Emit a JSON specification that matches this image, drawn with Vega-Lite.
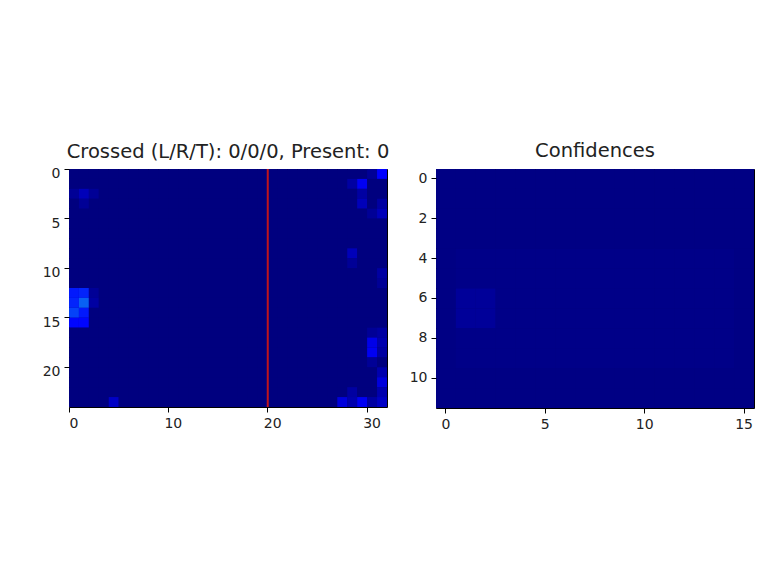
{
  "$schema": "https://vega.github.io/schema/vega-lite/v6.json",
  "background": "white",
  "padding": {"left": 41, "top": 140, "right": 4, "bottom": 4},
  "spacing": 18,
  "config": {
    "view": {"stroke": "#000", "strokeWidth": 1, "fill": "#00007f"},
    "axis": {"domain": false, "grid": false, "tickColor": "#000", "tickSize": 5, "tickWidth": 1, "labelFont": "DejaVu Sans", "labelFontSize": 14, "labelColor": "#222", "labelPadding": 4, "title": null, "labelAngle": 0},
    "title": {"font": "DejaVu Sans", "fontSize": 19.5, "fontWeight": "normal", "color": "#222", "offset": 8},
    "scale": {"bandPaddingInner": 0, "bandPaddingOuter": 0}
  },
  "datasets": {
    "lines": [{"x": 20}],
    "left": [
{"x":0,"y":0,"v":0},{"x":1,"y":0,"v":0},{"x":2,"y":0,"v":0},{"x":3,"y":0,"v":0},{"x":4,"y":0,"v":0},{"x":5,"y":0,"v":0},{"x":6,"y":0,"v":0},{"x":7,"y":0,"v":0},{"x":8,"y":0,"v":0},{"x":9,"y":0,"v":0},{"x":10,"y":0,"v":0},{"x":11,"y":0,"v":0},{"x":12,"y":0,"v":0},{"x":13,"y":0,"v":0},{"x":14,"y":0,"v":0},{"x":15,"y":0,"v":0},{"x":16,"y":0,"v":0},{"x":17,"y":0,"v":0},{"x":18,"y":0,"v":0},{"x":19,"y":0,"v":0},{"x":20,"y":0,"v":0},{"x":21,"y":0,"v":0},{"x":22,"y":0,"v":0},{"x":23,"y":0,"v":0},{"x":24,"y":0,"v":0},{"x":25,"y":0,"v":0},{"x":26,"y":0,"v":0},{"x":27,"y":0,"v":0},{"x":28,"y":0,"v":0},{"x":29,"y":0,"v":0},{"x":30,"y":0,"v":0.02},{"x":31,"y":0,"v":0.11},
{"x":0,"y":1,"v":0},{"x":1,"y":1,"v":0},{"x":2,"y":1,"v":0},{"x":3,"y":1,"v":0},{"x":4,"y":1,"v":0},{"x":5,"y":1,"v":0},{"x":6,"y":1,"v":0},{"x":7,"y":1,"v":0},{"x":8,"y":1,"v":0},{"x":9,"y":1,"v":0},{"x":10,"y":1,"v":0},{"x":11,"y":1,"v":0},{"x":12,"y":1,"v":0},{"x":13,"y":1,"v":0},{"x":14,"y":1,"v":0},{"x":15,"y":1,"v":0},{"x":16,"y":1,"v":0},{"x":17,"y":1,"v":0},{"x":18,"y":1,"v":0},{"x":19,"y":1,"v":0},{"x":20,"y":1,"v":0},{"x":21,"y":1,"v":0},{"x":22,"y":1,"v":0},{"x":23,"y":1,"v":0},{"x":24,"y":1,"v":0},{"x":25,"y":1,"v":0},{"x":26,"y":1,"v":0},{"x":27,"y":1,"v":0},{"x":28,"y":1,"v":0.03},{"x":29,"y":1,"v":0.1},{"x":30,"y":1,"v":0},{"x":31,"y":1,"v":0},
{"x":0,"y":2,"v":0.02},{"x":1,"y":2,"v":0.05},{"x":2,"y":2,"v":0.02},{"x":3,"y":2,"v":0},{"x":4,"y":2,"v":0},{"x":5,"y":2,"v":0},{"x":6,"y":2,"v":0},{"x":7,"y":2,"v":0},{"x":8,"y":2,"v":0},{"x":9,"y":2,"v":0},{"x":10,"y":2,"v":0},{"x":11,"y":2,"v":0},{"x":12,"y":2,"v":0},{"x":13,"y":2,"v":0},{"x":14,"y":2,"v":0},{"x":15,"y":2,"v":0},{"x":16,"y":2,"v":0},{"x":17,"y":2,"v":0},{"x":18,"y":2,"v":0},{"x":19,"y":2,"v":0},{"x":20,"y":2,"v":0},{"x":21,"y":2,"v":0},{"x":22,"y":2,"v":0},{"x":23,"y":2,"v":0},{"x":24,"y":2,"v":0},{"x":25,"y":2,"v":0},{"x":26,"y":2,"v":0},{"x":27,"y":2,"v":0},{"x":28,"y":2,"v":0},{"x":29,"y":2,"v":0.03},{"x":30,"y":2,"v":0},{"x":31,"y":2,"v":0},
{"x":0,"y":3,"v":0},{"x":1,"y":3,"v":0.02},{"x":2,"y":3,"v":0},{"x":3,"y":3,"v":0},{"x":4,"y":3,"v":0},{"x":5,"y":3,"v":0},{"x":6,"y":3,"v":0},{"x":7,"y":3,"v":0},{"x":8,"y":3,"v":0},{"x":9,"y":3,"v":0},{"x":10,"y":3,"v":0},{"x":11,"y":3,"v":0},{"x":12,"y":3,"v":0},{"x":13,"y":3,"v":0},{"x":14,"y":3,"v":0},{"x":15,"y":3,"v":0},{"x":16,"y":3,"v":0},{"x":17,"y":3,"v":0},{"x":18,"y":3,"v":0},{"x":19,"y":3,"v":0},{"x":20,"y":3,"v":0},{"x":21,"y":3,"v":0},{"x":22,"y":3,"v":0},{"x":23,"y":3,"v":0},{"x":24,"y":3,"v":0},{"x":25,"y":3,"v":0},{"x":26,"y":3,"v":0},{"x":27,"y":3,"v":0},{"x":28,"y":3,"v":0},{"x":29,"y":3,"v":0.05},{"x":30,"y":3,"v":0},{"x":31,"y":3,"v":0.03},
{"x":0,"y":4,"v":0},{"x":1,"y":4,"v":0},{"x":2,"y":4,"v":0},{"x":3,"y":4,"v":0},{"x":4,"y":4,"v":0},{"x":5,"y":4,"v":0},{"x":6,"y":4,"v":0},{"x":7,"y":4,"v":0},{"x":8,"y":4,"v":0},{"x":9,"y":4,"v":0},{"x":10,"y":4,"v":0},{"x":11,"y":4,"v":0},{"x":12,"y":4,"v":0},{"x":13,"y":4,"v":0},{"x":14,"y":4,"v":0},{"x":15,"y":4,"v":0},{"x":16,"y":4,"v":0},{"x":17,"y":4,"v":0},{"x":18,"y":4,"v":0},{"x":19,"y":4,"v":0},{"x":20,"y":4,"v":0},{"x":21,"y":4,"v":0},{"x":22,"y":4,"v":0},{"x":23,"y":4,"v":0},{"x":24,"y":4,"v":0},{"x":25,"y":4,"v":0},{"x":26,"y":4,"v":0},{"x":27,"y":4,"v":0},{"x":28,"y":4,"v":0},{"x":29,"y":4,"v":0},{"x":30,"y":4,"v":0.02},{"x":31,"y":4,"v":0.05},
{"x":0,"y":5,"v":0},{"x":1,"y":5,"v":0},{"x":2,"y":5,"v":0},{"x":3,"y":5,"v":0},{"x":4,"y":5,"v":0},{"x":5,"y":5,"v":0},{"x":6,"y":5,"v":0},{"x":7,"y":5,"v":0},{"x":8,"y":5,"v":0},{"x":9,"y":5,"v":0},{"x":10,"y":5,"v":0},{"x":11,"y":5,"v":0},{"x":12,"y":5,"v":0},{"x":13,"y":5,"v":0},{"x":14,"y":5,"v":0},{"x":15,"y":5,"v":0},{"x":16,"y":5,"v":0},{"x":17,"y":5,"v":0},{"x":18,"y":5,"v":0},{"x":19,"y":5,"v":0},{"x":20,"y":5,"v":0},{"x":21,"y":5,"v":0},{"x":22,"y":5,"v":0},{"x":23,"y":5,"v":0},{"x":24,"y":5,"v":0},{"x":25,"y":5,"v":0},{"x":26,"y":5,"v":0},{"x":27,"y":5,"v":0},{"x":28,"y":5,"v":0},{"x":29,"y":5,"v":0},{"x":30,"y":5,"v":0},{"x":31,"y":5,"v":0},
{"x":0,"y":6,"v":0},{"x":1,"y":6,"v":0},{"x":2,"y":6,"v":0},{"x":3,"y":6,"v":0},{"x":4,"y":6,"v":0},{"x":5,"y":6,"v":0},{"x":6,"y":6,"v":0},{"x":7,"y":6,"v":0},{"x":8,"y":6,"v":0},{"x":9,"y":6,"v":0},{"x":10,"y":6,"v":0},{"x":11,"y":6,"v":0},{"x":12,"y":6,"v":0},{"x":13,"y":6,"v":0},{"x":14,"y":6,"v":0},{"x":15,"y":6,"v":0},{"x":16,"y":6,"v":0},{"x":17,"y":6,"v":0},{"x":18,"y":6,"v":0},{"x":19,"y":6,"v":0},{"x":20,"y":6,"v":0},{"x":21,"y":6,"v":0},{"x":22,"y":6,"v":0},{"x":23,"y":6,"v":0},{"x":24,"y":6,"v":0},{"x":25,"y":6,"v":0},{"x":26,"y":6,"v":0},{"x":27,"y":6,"v":0},{"x":28,"y":6,"v":0},{"x":29,"y":6,"v":0},{"x":30,"y":6,"v":0},{"x":31,"y":6,"v":0},
{"x":0,"y":7,"v":0},{"x":1,"y":7,"v":0},{"x":2,"y":7,"v":0},{"x":3,"y":7,"v":0},{"x":4,"y":7,"v":0},{"x":5,"y":7,"v":0},{"x":6,"y":7,"v":0},{"x":7,"y":7,"v":0},{"x":8,"y":7,"v":0},{"x":9,"y":7,"v":0},{"x":10,"y":7,"v":0},{"x":11,"y":7,"v":0},{"x":12,"y":7,"v":0},{"x":13,"y":7,"v":0},{"x":14,"y":7,"v":0},{"x":15,"y":7,"v":0},{"x":16,"y":7,"v":0},{"x":17,"y":7,"v":0},{"x":18,"y":7,"v":0},{"x":19,"y":7,"v":0},{"x":20,"y":7,"v":0},{"x":21,"y":7,"v":0},{"x":22,"y":7,"v":0},{"x":23,"y":7,"v":0},{"x":24,"y":7,"v":0},{"x":25,"y":7,"v":0},{"x":26,"y":7,"v":0},{"x":27,"y":7,"v":0},{"x":28,"y":7,"v":0},{"x":29,"y":7,"v":0},{"x":30,"y":7,"v":0},{"x":31,"y":7,"v":0},
{"x":0,"y":8,"v":0},{"x":1,"y":8,"v":0},{"x":2,"y":8,"v":0},{"x":3,"y":8,"v":0},{"x":4,"y":8,"v":0},{"x":5,"y":8,"v":0},{"x":6,"y":8,"v":0},{"x":7,"y":8,"v":0},{"x":8,"y":8,"v":0},{"x":9,"y":8,"v":0},{"x":10,"y":8,"v":0},{"x":11,"y":8,"v":0},{"x":12,"y":8,"v":0},{"x":13,"y":8,"v":0},{"x":14,"y":8,"v":0},{"x":15,"y":8,"v":0},{"x":16,"y":8,"v":0},{"x":17,"y":8,"v":0},{"x":18,"y":8,"v":0},{"x":19,"y":8,"v":0},{"x":20,"y":8,"v":0},{"x":21,"y":8,"v":0},{"x":22,"y":8,"v":0},{"x":23,"y":8,"v":0},{"x":24,"y":8,"v":0},{"x":25,"y":8,"v":0},{"x":26,"y":8,"v":0},{"x":27,"y":8,"v":0},{"x":28,"y":8,"v":0.05},{"x":29,"y":8,"v":0},{"x":30,"y":8,"v":0},{"x":31,"y":8,"v":0},
{"x":0,"y":9,"v":0},{"x":1,"y":9,"v":0},{"x":2,"y":9,"v":0},{"x":3,"y":9,"v":0},{"x":4,"y":9,"v":0},{"x":5,"y":9,"v":0},{"x":6,"y":9,"v":0},{"x":7,"y":9,"v":0},{"x":8,"y":9,"v":0},{"x":9,"y":9,"v":0},{"x":10,"y":9,"v":0},{"x":11,"y":9,"v":0},{"x":12,"y":9,"v":0},{"x":13,"y":9,"v":0},{"x":14,"y":9,"v":0},{"x":15,"y":9,"v":0},{"x":16,"y":9,"v":0},{"x":17,"y":9,"v":0},{"x":18,"y":9,"v":0},{"x":19,"y":9,"v":0},{"x":20,"y":9,"v":0},{"x":21,"y":9,"v":0},{"x":22,"y":9,"v":0},{"x":23,"y":9,"v":0},{"x":24,"y":9,"v":0},{"x":25,"y":9,"v":0},{"x":26,"y":9,"v":0},{"x":27,"y":9,"v":0},{"x":28,"y":9,"v":0.02},{"x":29,"y":9,"v":0},{"x":30,"y":9,"v":0},{"x":31,"y":9,"v":0},
{"x":0,"y":10,"v":0},{"x":1,"y":10,"v":0},{"x":2,"y":10,"v":0},{"x":3,"y":10,"v":0},{"x":4,"y":10,"v":0},{"x":5,"y":10,"v":0},{"x":6,"y":10,"v":0},{"x":7,"y":10,"v":0},{"x":8,"y":10,"v":0},{"x":9,"y":10,"v":0},{"x":10,"y":10,"v":0},{"x":11,"y":10,"v":0},{"x":12,"y":10,"v":0},{"x":13,"y":10,"v":0},{"x":14,"y":10,"v":0},{"x":15,"y":10,"v":0},{"x":16,"y":10,"v":0},{"x":17,"y":10,"v":0},{"x":18,"y":10,"v":0},{"x":19,"y":10,"v":0},{"x":20,"y":10,"v":0},{"x":21,"y":10,"v":0},{"x":22,"y":10,"v":0},{"x":23,"y":10,"v":0},{"x":24,"y":10,"v":0},{"x":25,"y":10,"v":0},{"x":26,"y":10,"v":0},{"x":27,"y":10,"v":0},{"x":28,"y":10,"v":0},{"x":29,"y":10,"v":0},{"x":30,"y":10,"v":0},{"x":31,"y":10,"v":0.03},
{"x":0,"y":11,"v":0},{"x":1,"y":11,"v":0},{"x":2,"y":11,"v":0},{"x":3,"y":11,"v":0},{"x":4,"y":11,"v":0},{"x":5,"y":11,"v":0},{"x":6,"y":11,"v":0},{"x":7,"y":11,"v":0},{"x":8,"y":11,"v":0},{"x":9,"y":11,"v":0},{"x":10,"y":11,"v":0},{"x":11,"y":11,"v":0},{"x":12,"y":11,"v":0},{"x":13,"y":11,"v":0},{"x":14,"y":11,"v":0},{"x":15,"y":11,"v":0},{"x":16,"y":11,"v":0},{"x":17,"y":11,"v":0},{"x":18,"y":11,"v":0},{"x":19,"y":11,"v":0},{"x":20,"y":11,"v":0},{"x":21,"y":11,"v":0},{"x":22,"y":11,"v":0},{"x":23,"y":11,"v":0},{"x":24,"y":11,"v":0},{"x":25,"y":11,"v":0},{"x":26,"y":11,"v":0},{"x":27,"y":11,"v":0},{"x":28,"y":11,"v":0},{"x":29,"y":11,"v":0},{"x":30,"y":11,"v":0},{"x":31,"y":11,"v":0.02},
{"x":0,"y":12,"v":0.15},{"x":1,"y":12,"v":0.16},{"x":2,"y":12,"v":0.02},{"x":3,"y":12,"v":0},{"x":4,"y":12,"v":0},{"x":5,"y":12,"v":0},{"x":6,"y":12,"v":0},{"x":7,"y":12,"v":0},{"x":8,"y":12,"v":0},{"x":9,"y":12,"v":0},{"x":10,"y":12,"v":0},{"x":11,"y":12,"v":0},{"x":12,"y":12,"v":0},{"x":13,"y":12,"v":0},{"x":14,"y":12,"v":0},{"x":15,"y":12,"v":0},{"x":16,"y":12,"v":0},{"x":17,"y":12,"v":0},{"x":18,"y":12,"v":0},{"x":19,"y":12,"v":0},{"x":20,"y":12,"v":0},{"x":21,"y":12,"v":0},{"x":22,"y":12,"v":0},{"x":23,"y":12,"v":0},{"x":24,"y":12,"v":0},{"x":25,"y":12,"v":0},{"x":26,"y":12,"v":0},{"x":27,"y":12,"v":0},{"x":28,"y":12,"v":0},{"x":29,"y":12,"v":0},{"x":30,"y":12,"v":0},{"x":31,"y":12,"v":0},
{"x":0,"y":13,"v":0.16},{"x":1,"y":13,"v":0.22},{"x":2,"y":13,"v":0.03},{"x":3,"y":13,"v":0},{"x":4,"y":13,"v":0},{"x":5,"y":13,"v":0},{"x":6,"y":13,"v":0},{"x":7,"y":13,"v":0},{"x":8,"y":13,"v":0},{"x":9,"y":13,"v":0},{"x":10,"y":13,"v":0},{"x":11,"y":13,"v":0},{"x":12,"y":13,"v":0},{"x":13,"y":13,"v":0},{"x":14,"y":13,"v":0},{"x":15,"y":13,"v":0},{"x":16,"y":13,"v":0},{"x":17,"y":13,"v":0},{"x":18,"y":13,"v":0},{"x":19,"y":13,"v":0},{"x":20,"y":13,"v":0},{"x":21,"y":13,"v":0},{"x":22,"y":13,"v":0},{"x":23,"y":13,"v":0},{"x":24,"y":13,"v":0},{"x":25,"y":13,"v":0},{"x":26,"y":13,"v":0},{"x":27,"y":13,"v":0},{"x":28,"y":13,"v":0},{"x":29,"y":13,"v":0},{"x":30,"y":13,"v":0},{"x":31,"y":13,"v":0},
{"x":0,"y":14,"v":0.19},{"x":1,"y":14,"v":0.15},{"x":2,"y":14,"v":0},{"x":3,"y":14,"v":0},{"x":4,"y":14,"v":0},{"x":5,"y":14,"v":0},{"x":6,"y":14,"v":0},{"x":7,"y":14,"v":0},{"x":8,"y":14,"v":0},{"x":9,"y":14,"v":0},{"x":10,"y":14,"v":0},{"x":11,"y":14,"v":0},{"x":12,"y":14,"v":0},{"x":13,"y":14,"v":0},{"x":14,"y":14,"v":0},{"x":15,"y":14,"v":0},{"x":16,"y":14,"v":0},{"x":17,"y":14,"v":0},{"x":18,"y":14,"v":0},{"x":19,"y":14,"v":0},{"x":20,"y":14,"v":0},{"x":21,"y":14,"v":0},{"x":22,"y":14,"v":0},{"x":23,"y":14,"v":0},{"x":24,"y":14,"v":0},{"x":25,"y":14,"v":0},{"x":26,"y":14,"v":0},{"x":27,"y":14,"v":0},{"x":28,"y":14,"v":0},{"x":29,"y":14,"v":0},{"x":30,"y":14,"v":0},{"x":31,"y":14,"v":0},
{"x":0,"y":15,"v":0.13},{"x":1,"y":15,"v":0.13},{"x":2,"y":15,"v":0},{"x":3,"y":15,"v":0},{"x":4,"y":15,"v":0},{"x":5,"y":15,"v":0},{"x":6,"y":15,"v":0},{"x":7,"y":15,"v":0},{"x":8,"y":15,"v":0},{"x":9,"y":15,"v":0},{"x":10,"y":15,"v":0},{"x":11,"y":15,"v":0},{"x":12,"y":15,"v":0},{"x":13,"y":15,"v":0},{"x":14,"y":15,"v":0},{"x":15,"y":15,"v":0},{"x":16,"y":15,"v":0},{"x":17,"y":15,"v":0},{"x":18,"y":15,"v":0},{"x":19,"y":15,"v":0},{"x":20,"y":15,"v":0},{"x":21,"y":15,"v":0},{"x":22,"y":15,"v":0},{"x":23,"y":15,"v":0},{"x":24,"y":15,"v":0},{"x":25,"y":15,"v":0},{"x":26,"y":15,"v":0},{"x":27,"y":15,"v":0},{"x":28,"y":15,"v":0},{"x":29,"y":15,"v":0},{"x":30,"y":15,"v":0},{"x":31,"y":15,"v":0},
{"x":0,"y":16,"v":0},{"x":1,"y":16,"v":0},{"x":2,"y":16,"v":0},{"x":3,"y":16,"v":0},{"x":4,"y":16,"v":0},{"x":5,"y":16,"v":0},{"x":6,"y":16,"v":0},{"x":7,"y":16,"v":0},{"x":8,"y":16,"v":0},{"x":9,"y":16,"v":0},{"x":10,"y":16,"v":0},{"x":11,"y":16,"v":0},{"x":12,"y":16,"v":0},{"x":13,"y":16,"v":0},{"x":14,"y":16,"v":0},{"x":15,"y":16,"v":0},{"x":16,"y":16,"v":0},{"x":17,"y":16,"v":0},{"x":18,"y":16,"v":0},{"x":19,"y":16,"v":0},{"x":20,"y":16,"v":0},{"x":21,"y":16,"v":0},{"x":22,"y":16,"v":0},{"x":23,"y":16,"v":0},{"x":24,"y":16,"v":0},{"x":25,"y":16,"v":0},{"x":26,"y":16,"v":0},{"x":27,"y":16,"v":0},{"x":28,"y":16,"v":0},{"x":29,"y":16,"v":0},{"x":30,"y":16,"v":0.02},{"x":31,"y":16,"v":0.03},
{"x":0,"y":17,"v":0},{"x":1,"y":17,"v":0},{"x":2,"y":17,"v":0},{"x":3,"y":17,"v":0},{"x":4,"y":17,"v":0},{"x":5,"y":17,"v":0},{"x":6,"y":17,"v":0},{"x":7,"y":17,"v":0},{"x":8,"y":17,"v":0},{"x":9,"y":17,"v":0},{"x":10,"y":17,"v":0},{"x":11,"y":17,"v":0},{"x":12,"y":17,"v":0},{"x":13,"y":17,"v":0},{"x":14,"y":17,"v":0},{"x":15,"y":17,"v":0},{"x":16,"y":17,"v":0},{"x":17,"y":17,"v":0},{"x":18,"y":17,"v":0},{"x":19,"y":17,"v":0},{"x":20,"y":17,"v":0},{"x":21,"y":17,"v":0},{"x":22,"y":17,"v":0},{"x":23,"y":17,"v":0},{"x":24,"y":17,"v":0},{"x":25,"y":17,"v":0},{"x":26,"y":17,"v":0},{"x":27,"y":17,"v":0},{"x":28,"y":17,"v":0},{"x":29,"y":17,"v":0},{"x":30,"y":17,"v":0.09},{"x":31,"y":17,"v":0.04},
{"x":0,"y":18,"v":0},{"x":1,"y":18,"v":0},{"x":2,"y":18,"v":0},{"x":3,"y":18,"v":0},{"x":4,"y":18,"v":0},{"x":5,"y":18,"v":0},{"x":6,"y":18,"v":0},{"x":7,"y":18,"v":0},{"x":8,"y":18,"v":0},{"x":9,"y":18,"v":0},{"x":10,"y":18,"v":0},{"x":11,"y":18,"v":0},{"x":12,"y":18,"v":0},{"x":13,"y":18,"v":0},{"x":14,"y":18,"v":0},{"x":15,"y":18,"v":0},{"x":16,"y":18,"v":0},{"x":17,"y":18,"v":0},{"x":18,"y":18,"v":0},{"x":19,"y":18,"v":0},{"x":20,"y":18,"v":0},{"x":21,"y":18,"v":0},{"x":22,"y":18,"v":0},{"x":23,"y":18,"v":0},{"x":24,"y":18,"v":0},{"x":25,"y":18,"v":0},{"x":26,"y":18,"v":0},{"x":27,"y":18,"v":0},{"x":28,"y":18,"v":0},{"x":29,"y":18,"v":0},{"x":30,"y":18,"v":0.1},{"x":31,"y":18,"v":0.03},
{"x":0,"y":19,"v":0},{"x":1,"y":19,"v":0},{"x":2,"y":19,"v":0},{"x":3,"y":19,"v":0},{"x":4,"y":19,"v":0},{"x":5,"y":19,"v":0},{"x":6,"y":19,"v":0},{"x":7,"y":19,"v":0},{"x":8,"y":19,"v":0},{"x":9,"y":19,"v":0},{"x":10,"y":19,"v":0},{"x":11,"y":19,"v":0},{"x":12,"y":19,"v":0},{"x":13,"y":19,"v":0},{"x":14,"y":19,"v":0},{"x":15,"y":19,"v":0},{"x":16,"y":19,"v":0},{"x":17,"y":19,"v":0},{"x":18,"y":19,"v":0},{"x":19,"y":19,"v":0},{"x":20,"y":19,"v":0},{"x":21,"y":19,"v":0},{"x":22,"y":19,"v":0},{"x":23,"y":19,"v":0},{"x":24,"y":19,"v":0},{"x":25,"y":19,"v":0},{"x":26,"y":19,"v":0},{"x":27,"y":19,"v":0},{"x":28,"y":19,"v":0},{"x":29,"y":19,"v":0},{"x":30,"y":19,"v":0.02},{"x":31,"y":19,"v":0},
{"x":0,"y":20,"v":0},{"x":1,"y":20,"v":0},{"x":2,"y":20,"v":0},{"x":3,"y":20,"v":0},{"x":4,"y":20,"v":0},{"x":5,"y":20,"v":0},{"x":6,"y":20,"v":0},{"x":7,"y":20,"v":0},{"x":8,"y":20,"v":0},{"x":9,"y":20,"v":0},{"x":10,"y":20,"v":0},{"x":11,"y":20,"v":0},{"x":12,"y":20,"v":0},{"x":13,"y":20,"v":0},{"x":14,"y":20,"v":0},{"x":15,"y":20,"v":0},{"x":16,"y":20,"v":0},{"x":17,"y":20,"v":0},{"x":18,"y":20,"v":0},{"x":19,"y":20,"v":0},{"x":20,"y":20,"v":0},{"x":21,"y":20,"v":0},{"x":22,"y":20,"v":0},{"x":23,"y":20,"v":0},{"x":24,"y":20,"v":0},{"x":25,"y":20,"v":0},{"x":26,"y":20,"v":0},{"x":27,"y":20,"v":0},{"x":28,"y":20,"v":0},{"x":29,"y":20,"v":0},{"x":30,"y":20,"v":0},{"x":31,"y":20,"v":0.04},
{"x":0,"y":21,"v":0},{"x":1,"y":21,"v":0},{"x":2,"y":21,"v":0},{"x":3,"y":21,"v":0},{"x":4,"y":21,"v":0},{"x":5,"y":21,"v":0},{"x":6,"y":21,"v":0},{"x":7,"y":21,"v":0},{"x":8,"y":21,"v":0},{"x":9,"y":21,"v":0},{"x":10,"y":21,"v":0},{"x":11,"y":21,"v":0},{"x":12,"y":21,"v":0},{"x":13,"y":21,"v":0},{"x":14,"y":21,"v":0},{"x":15,"y":21,"v":0},{"x":16,"y":21,"v":0},{"x":17,"y":21,"v":0},{"x":18,"y":21,"v":0},{"x":19,"y":21,"v":0},{"x":20,"y":21,"v":0},{"x":21,"y":21,"v":0},{"x":22,"y":21,"v":0},{"x":23,"y":21,"v":0},{"x":24,"y":21,"v":0},{"x":25,"y":21,"v":0},{"x":26,"y":21,"v":0},{"x":27,"y":21,"v":0},{"x":28,"y":21,"v":0},{"x":29,"y":21,"v":0},{"x":30,"y":21,"v":0},{"x":31,"y":21,"v":0.08},
{"x":0,"y":22,"v":0},{"x":1,"y":22,"v":0},{"x":2,"y":22,"v":0},{"x":3,"y":22,"v":0},{"x":4,"y":22,"v":0},{"x":5,"y":22,"v":0},{"x":6,"y":22,"v":0},{"x":7,"y":22,"v":0},{"x":8,"y":22,"v":0},{"x":9,"y":22,"v":0},{"x":10,"y":22,"v":0},{"x":11,"y":22,"v":0},{"x":12,"y":22,"v":0},{"x":13,"y":22,"v":0},{"x":14,"y":22,"v":0},{"x":15,"y":22,"v":0},{"x":16,"y":22,"v":0},{"x":17,"y":22,"v":0},{"x":18,"y":22,"v":0},{"x":19,"y":22,"v":0},{"x":20,"y":22,"v":0},{"x":21,"y":22,"v":0},{"x":22,"y":22,"v":0},{"x":23,"y":22,"v":0},{"x":24,"y":22,"v":0},{"x":25,"y":22,"v":0},{"x":26,"y":22,"v":0},{"x":27,"y":22,"v":0},{"x":28,"y":22,"v":0.03},{"x":29,"y":22,"v":0},{"x":30,"y":22,"v":0},{"x":31,"y":22,"v":0.04},
{"x":0,"y":23,"v":0},{"x":1,"y":23,"v":0},{"x":2,"y":23,"v":0},{"x":3,"y":23,"v":0},{"x":4,"y":23,"v":0.06},{"x":5,"y":23,"v":0},{"x":6,"y":23,"v":0},{"x":7,"y":23,"v":0},{"x":8,"y":23,"v":0},{"x":9,"y":23,"v":0},{"x":10,"y":23,"v":0},{"x":11,"y":23,"v":0},{"x":12,"y":23,"v":0},{"x":13,"y":23,"v":0},{"x":14,"y":23,"v":0},{"x":15,"y":23,"v":0},{"x":16,"y":23,"v":0},{"x":17,"y":23,"v":0},{"x":18,"y":23,"v":0},{"x":19,"y":23,"v":0},{"x":20,"y":23,"v":0},{"x":21,"y":23,"v":0},{"x":22,"y":23,"v":0},{"x":23,"y":23,"v":0},{"x":24,"y":23,"v":0},{"x":25,"y":23,"v":0},{"x":26,"y":23,"v":0},{"x":27,"y":23,"v":0.08},{"x":28,"y":23,"v":0.04},{"x":29,"y":23,"v":0.1},{"x":30,"y":23,"v":0.03},{"x":31,"y":23,"v":0.06}
    ],
    "right": [
{"x":0,"y":0,"v":0.004},{"x":1,"y":0,"v":0.004},{"x":2,"y":0,"v":0.004},{"x":3,"y":0,"v":0.004},{"x":4,"y":0,"v":0.004},{"x":5,"y":0,"v":0.004},{"x":6,"y":0,"v":0.004},{"x":7,"y":0,"v":0.004},{"x":8,"y":0,"v":0.004},{"x":9,"y":0,"v":0.004},{"x":10,"y":0,"v":0.004},{"x":11,"y":0,"v":0.004},{"x":12,"y":0,"v":0.004},{"x":13,"y":0,"v":0.004},{"x":14,"y":0,"v":0.004},{"x":15,"y":0,"v":0.004},
{"x":0,"y":1,"v":0.004},{"x":1,"y":1,"v":0.004},{"x":2,"y":1,"v":0.004},{"x":3,"y":1,"v":0.004},{"x":4,"y":1,"v":0.004},{"x":5,"y":1,"v":0.004},{"x":6,"y":1,"v":0.004},{"x":7,"y":1,"v":0.004},{"x":8,"y":1,"v":0.004},{"x":9,"y":1,"v":0.004},{"x":10,"y":1,"v":0.004},{"x":11,"y":1,"v":0.004},{"x":12,"y":1,"v":0.004},{"x":13,"y":1,"v":0.004},{"x":14,"y":1,"v":0.004},{"x":15,"y":1,"v":0.004},
{"x":0,"y":2,"v":0.004},{"x":1,"y":2,"v":0.004},{"x":2,"y":2,"v":0.004},{"x":3,"y":2,"v":0.004},{"x":4,"y":2,"v":0.004},{"x":5,"y":2,"v":0.004},{"x":6,"y":2,"v":0.004},{"x":7,"y":2,"v":0.004},{"x":8,"y":2,"v":0.004},{"x":9,"y":2,"v":0.004},{"x":10,"y":2,"v":0.004},{"x":11,"y":2,"v":0.004},{"x":12,"y":2,"v":0.004},{"x":13,"y":2,"v":0.004},{"x":14,"y":2,"v":0.004},{"x":15,"y":2,"v":0.004},
{"x":0,"y":3,"v":0.004},{"x":1,"y":3,"v":0.004},{"x":2,"y":3,"v":0.004},{"x":3,"y":3,"v":0.004},{"x":4,"y":3,"v":0.004},{"x":5,"y":3,"v":0.004},{"x":6,"y":3,"v":0.004},{"x":7,"y":3,"v":0.004},{"x":8,"y":3,"v":0.004},{"x":9,"y":3,"v":0.004},{"x":10,"y":3,"v":0.004},{"x":11,"y":3,"v":0.004},{"x":12,"y":3,"v":0.004},{"x":13,"y":3,"v":0.004},{"x":14,"y":3,"v":0.004},{"x":15,"y":3,"v":0.004},
{"x":0,"y":4,"v":0.004},{"x":1,"y":4,"v":0.008},{"x":2,"y":4,"v":0.008},{"x":3,"y":4,"v":0.008},{"x":4,"y":4,"v":0.008},{"x":5,"y":4,"v":0.008},{"x":6,"y":4,"v":0.008},{"x":7,"y":4,"v":0.008},{"x":8,"y":4,"v":0.008},{"x":9,"y":4,"v":0.008},{"x":10,"y":4,"v":0.008},{"x":11,"y":4,"v":0.008},{"x":12,"y":4,"v":0.008},{"x":13,"y":4,"v":0.008},{"x":14,"y":4,"v":0.008},{"x":15,"y":4,"v":0.004},
{"x":0,"y":5,"v":0.004},{"x":1,"y":5,"v":0.008},{"x":2,"y":5,"v":0.008},{"x":3,"y":5,"v":0.008},{"x":4,"y":5,"v":0.008},{"x":5,"y":5,"v":0.008},{"x":6,"y":5,"v":0.008},{"x":7,"y":5,"v":0.008},{"x":8,"y":5,"v":0.008},{"x":9,"y":5,"v":0.008},{"x":10,"y":5,"v":0.008},{"x":11,"y":5,"v":0.008},{"x":12,"y":5,"v":0.008},{"x":13,"y":5,"v":0.008},{"x":14,"y":5,"v":0.008},{"x":15,"y":5,"v":0.004},
{"x":0,"y":6,"v":0.004},{"x":1,"y":6,"v":0.022},{"x":2,"y":6,"v":0.022},{"x":3,"y":6,"v":0.008},{"x":4,"y":6,"v":0.008},{"x":5,"y":6,"v":0.008},{"x":6,"y":6,"v":0.008},{"x":7,"y":6,"v":0.008},{"x":8,"y":6,"v":0.008},{"x":9,"y":6,"v":0.008},{"x":10,"y":6,"v":0.008},{"x":11,"y":6,"v":0.008},{"x":12,"y":6,"v":0.008},{"x":13,"y":6,"v":0.008},{"x":14,"y":6,"v":0.008},{"x":15,"y":6,"v":0.004},
{"x":0,"y":7,"v":0.004},{"x":1,"y":7,"v":0.022},{"x":2,"y":7,"v":0.022},{"x":3,"y":7,"v":0.008},{"x":4,"y":7,"v":0.008},{"x":5,"y":7,"v":0.008},{"x":6,"y":7,"v":0.008},{"x":7,"y":7,"v":0.008},{"x":8,"y":7,"v":0.008},{"x":9,"y":7,"v":0.008},{"x":10,"y":7,"v":0.008},{"x":11,"y":7,"v":0.008},{"x":12,"y":7,"v":0.008},{"x":13,"y":7,"v":0.008},{"x":14,"y":7,"v":0.008},{"x":15,"y":7,"v":0.004},
{"x":0,"y":8,"v":0.004},{"x":1,"y":8,"v":0.008},{"x":2,"y":8,"v":0.008},{"x":3,"y":8,"v":0.008},{"x":4,"y":8,"v":0.008},{"x":5,"y":8,"v":0.008},{"x":6,"y":8,"v":0.008},{"x":7,"y":8,"v":0.008},{"x":8,"y":8,"v":0.008},{"x":9,"y":8,"v":0.008},{"x":10,"y":8,"v":0.008},{"x":11,"y":8,"v":0.008},{"x":12,"y":8,"v":0.008},{"x":13,"y":8,"v":0.008},{"x":14,"y":8,"v":0.008},{"x":15,"y":8,"v":0.004},
{"x":0,"y":9,"v":0.004},{"x":1,"y":9,"v":0.008},{"x":2,"y":9,"v":0.008},{"x":3,"y":9,"v":0.008},{"x":4,"y":9,"v":0.008},{"x":5,"y":9,"v":0.008},{"x":6,"y":9,"v":0.008},{"x":7,"y":9,"v":0.008},{"x":8,"y":9,"v":0.008},{"x":9,"y":9,"v":0.008},{"x":10,"y":9,"v":0.008},{"x":11,"y":9,"v":0.008},{"x":12,"y":9,"v":0.008},{"x":13,"y":9,"v":0.008},{"x":14,"y":9,"v":0.008},{"x":15,"y":9,"v":0.004},
{"x":0,"y":10,"v":0.004},{"x":1,"y":10,"v":0.004},{"x":2,"y":10,"v":0.004},{"x":3,"y":10,"v":0.004},{"x":4,"y":10,"v":0.004},{"x":5,"y":10,"v":0.004},{"x":6,"y":10,"v":0.004},{"x":7,"y":10,"v":0.004},{"x":8,"y":10,"v":0.004},{"x":9,"y":10,"v":0.004},{"x":10,"y":10,"v":0.004},{"x":11,"y":10,"v":0.004},{"x":12,"y":10,"v":0.004},{"x":13,"y":10,"v":0.004},{"x":14,"y":10,"v":0.004},{"x":15,"y":10,"v":0.004},
{"x":0,"y":11,"v":0.004},{"x":1,"y":11,"v":0.004},{"x":2,"y":11,"v":0.004},{"x":3,"y":11,"v":0.004},{"x":4,"y":11,"v":0.004},{"x":5,"y":11,"v":0.004},{"x":6,"y":11,"v":0.004},{"x":7,"y":11,"v":0.004},{"x":8,"y":11,"v":0.004},{"x":9,"y":11,"v":0.004},{"x":10,"y":11,"v":0.004},{"x":11,"y":11,"v":0.004},{"x":12,"y":11,"v":0.004},{"x":13,"y":11,"v":0.004},{"x":14,"y":11,"v":0.004},{"x":15,"y":11,"v":0.004}
    ]
  },
  "hconcat": [
    {
      "width": 318,
      "height": 238,
      "title": {"text": "Crossed (L/R/T): 0/0/0, Present: 0", "offset": 4},
      "layer": [
        {
          "data": {"name": "left"},
          "mark": {"type": "rect"},
          "encoding": {
            "x": {"field": "x", "type": "ordinal", "scale": {"domain": [0,1,2,3,4,5,6,7,8,9,10,11,12,13,14,15,16,17,18,19,20,21,22,23,24,25,26,27,28,29,30,31]}, "axis": {"values": [0,10,20,30], "bandPosition": 0}},
            "y": {"field": "y", "type": "ordinal", "scale": {"domain": [0,1,2,3,4,5,6,7,8,9,10,11,12,13,14,15,16,17,18,19,20,21,22,23]}, "axis": {"values": [0,5,10,15,20], "bandPosition": 0}},
            "color": {"field": "v", "type": "quantitative", "scale": {"domain": [0, 0.11, 0.125, 0.375, 0.625, 0.875, 1], "range": ["#00007f", "#0000ff", "#0000ff", "#14ffe3", "#e3ff14", "#ff2200", "#7f0000"], "interpolate": "rgb"}, "legend": null}
          }
        },
        {
          "data": {"name": "lines"},
          "mark": {"type": "rule", "color": "#c0141c", "strokeWidth": 2},
          "encoding": {"x": {"field": "x", "type": "ordinal", "bandPosition": 0}}
        }
      ]
    },
    {
      "width": 318,
      "height": 239,
      "title": {"text": "Confidences", "offset": 8},
      "data": {"name": "right"},
      "mark": {"type": "rect"},
      "encoding": {
        "x": {"field": "x", "type": "ordinal", "scale": {"domain": [0,1,2,3,4,5,6,7,8,9,10,11,12,13,14,15]}, "axis": {"values": [0,5,10,15]}},
        "y": {"field": "y", "type": "ordinal", "scale": {"domain": [0,1,2,3,4,5,6,7,8,9,10,11]}, "axis": {"values": [0,2,4,6,8,10]}},
        "color": {"field": "v", "type": "quantitative", "scale": {"domain": [0, 0.11, 0.125, 0.375, 0.625, 0.875, 1], "range": ["#00007f", "#0000ff", "#0000ff", "#14ffe3", "#e3ff14", "#ff2200", "#7f0000"], "interpolate": "rgb"}, "legend": null}
      }
    }
  ]
}
